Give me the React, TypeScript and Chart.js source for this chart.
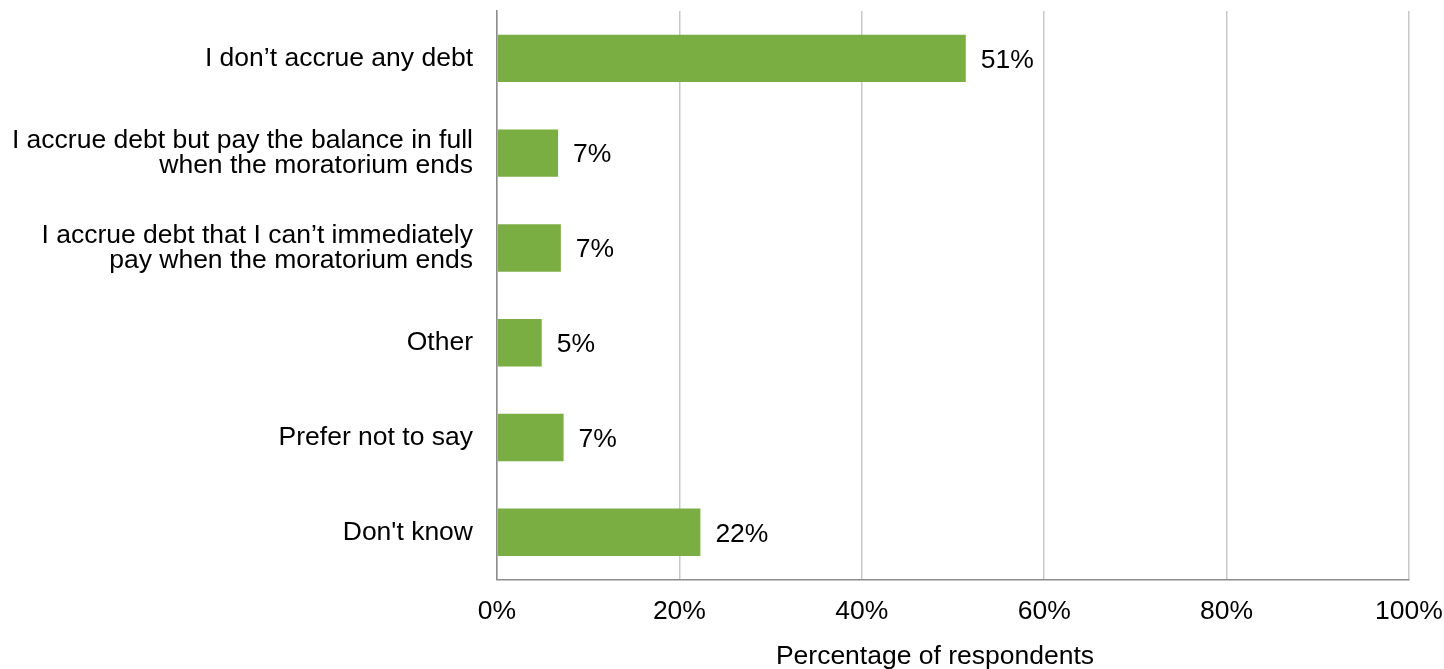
import React, { useEffect, useRef } from "react";
import { Chart, registerables } from "chart.js";

Chart.register(...registerables);

const categories: (string | string[])[] = [
  "I don\u2019t accrue any debt",
  ["I accrue debt but pay the balance in full", "when the moratorium ends"],
  ["I accrue debt that I can\u2019t immediately", "pay when the moratorium ends"],
  "Other",
  "Prefer not to say",
  "Don't know",
];
const values = [51.4, 6.7, 7.0, 4.9, 7.3, 22.3];
const valueLabels = ["51%", "7%", "7%", "5%", "7%", "22%"];
const xTicks = [0, 20, 40, 60, 80, 100];
const xTitle = "Percentage of respondents";

const FONT = "'Liberation Sans', Arial, sans-serif";
const FS = 26.5;

const dataLabelPlugin = {
  id: "dataLabels",
  afterDatasetsDraw(chart: any) {
    const ctx = chart.ctx;
    const meta = chart.getDatasetMeta(0);
    ctx.save();
    ctx.font = `${FS}px ${FONT}`;
    ctx.fillStyle = "#000";
    ctx.textAlign = "left";
    ctx.textBaseline = "middle";
    meta.data.forEach((bar: any, i: number) => {
      ctx.fillText(valueLabels[i], bar.x + 15, bar.y + 2);
    });
    ctx.restore();
  },
  afterDraw(chart: any) {
    const ctx = chart.ctx;
    const area = chart.chartArea;
    ctx.save();
    ctx.font = `${FS}px ${FONT}`;
    ctx.fillStyle = "#000";
    ctx.textAlign = "center";
    ctx.textBaseline = "middle";
    ctx.fillText(xTitle, (area.left + area.right) / 2 - 18, chart.height - 12);
    ctx.restore();
  },
};

export default function App() {
  const ref = useRef<HTMLCanvasElement>(null);
  useEffect(() => {
    if (!ref.current) return;
    const chart = new Chart(ref.current, {
      type: "bar",
      data: {
        labels: categories,
        datasets: [
          {
            data: values,
            backgroundColor: "#7AAD42",
            borderWidth: 0,
            categoryPercentage: 1,
            barPercentage: 0.5,
          },
        ],
      },
      options: {
        indexAxis: "y",
        animation: false,
        responsive: false,
        maintainAspectRatio: false,
        layout: { padding: { top: 11, right: 35, left: 0, bottom: 0 } },
        plugins: {
          legend: { display: false },
          tooltip: { enabled: false },
        },
        scales: {
          x: {
            min: 0,
            max: 100,
            afterBuildTicks: (axis: any) => {
              axis.ticks = xTicks.map((v) => ({ value: v }));
            },
            afterFit: (axis: any) => {
              axis.paddingRight = 0;
              axis.paddingLeft = 0;
            },
            ticks: {
              callback: (v: any) => v + "%",
              font: { family: FONT, size: FS },
              color: "#000",
              padding: 16,
            },
            grid: { color: "#c8c8c8", lineWidth: 1.5, drawTicks: false },
            border: { color: "#8c8c8c", width: 1.5 },
            title: {
              display: true,
              text: xTitle,
              font: { family: FONT, size: FS, lineHeight: 1.0 },
              color: "rgba(0,0,0,0)",
              padding: { top: 3, bottom: -4 },
            },
          },
          y: {
            grid: { display: false, drawTicks: false },
            border: { color: "#8c8c8c", width: 1.5 },
            ticks: {
              font: { family: FONT, size: FS, lineHeight: 0.95 },
              color: "#000",
              padding: 24,
            },
            afterFit: (axis: any) => {
              axis.width = 497;
              axis.paddingTop = 0;
              axis.paddingBottom = 0;
            },
          },
        },
      },
      plugins: [dataLabelPlugin],
    });
    return () => chart.destroy();
  }, []);
  return (
    <div style={{ position: "fixed", left: 0, top: 0, width: 1444, height: 669, background: "#fff" }}>
      <canvas ref={ref} width={1444} height={669} style={{ width: 1444, height: 669 }} />
    </div>
  );
}
